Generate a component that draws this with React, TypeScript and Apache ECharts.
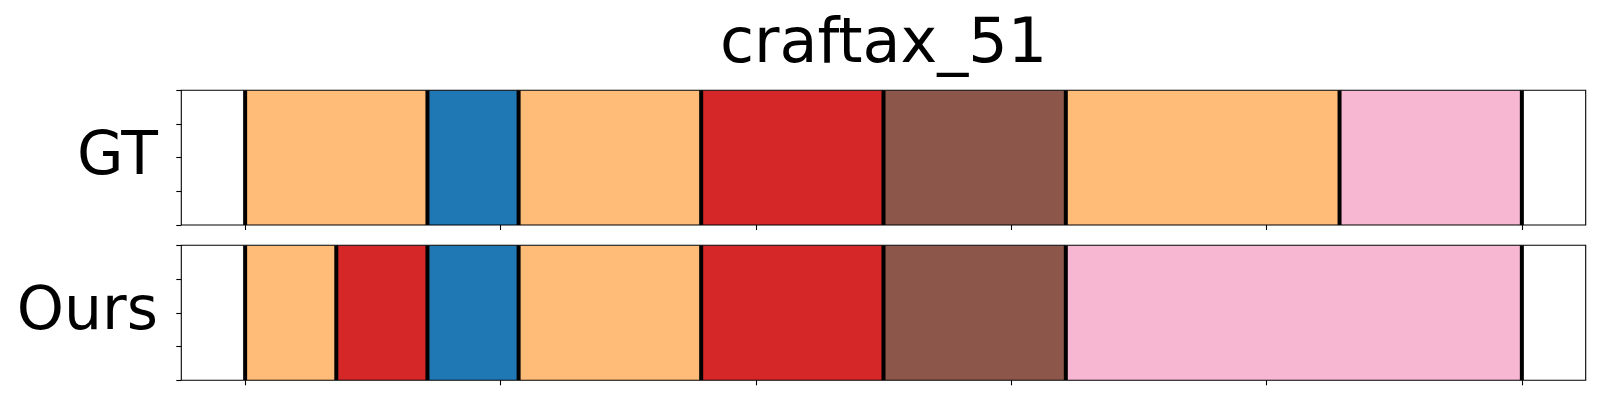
import React, { useEffect, useRef } from "react";
import * as echarts from "echarts";

const title = "craftax_51";
const rowNames = ["GT", "Ours"];
const xTicks = [0, 100, 200, 300, 400, 500];
const gtBounds = [0, 71.4, 107.1, 178.6, 250, 321.4, 428.6, 500];
const gtColors = ["#ffbb78", "#1f77b4", "#ffbb78", "#d62728", "#8c564b", "#ffbb78", "#f7b6d2"];
const oursBounds = [0, 35.7, 71.4, 107.1, 178.6, 250, 321.4, 500];
const oursColors = ["#ffbb78", "#d62728", "#1f77b4", "#ffbb78", "#d62728", "#8c564b", "#f7b6d2"];

const FONT = "DejaVu Sans";

function segSeries(bounds: number[], colors: string[], idx: number) {
  const data = colors.map((c, i) => ({ value: [bounds[i], bounds[i + 1]], itemStyle: { color: c } }));
  return {
    type: "custom",
    xAxisIndex: idx,
    yAxisIndex: idx,
    clip: true,
    z: 2,
    renderItem: (params: any, api: any) => {
      const s = api.coord([api.value(0), 4]);
      const e = api.coord([api.value(1), 0]);
      return {
        type: "rect",
        shape: { x: s[0], y: s[1], width: e[0] - s[0], height: e[1] - s[1] },
        style: { fill: api.visual("color") },
      };
    },
    data,
  };
}

function lineSeries(bounds: number[], idx: number) {
  return {
    type: "custom",
    xAxisIndex: idx,
    yAxisIndex: idx,
    clip: true,
    z: 3,
    renderItem: (params: any, api: any) => {
      const a = api.coord([api.value(0), 0]);
      const b = api.coord([api.value(0), 4]);
      return {
        type: "line",
        shape: { x1: a[0], y1: a[1], x2: b[0], y2: b[1] },
        style: { stroke: "#000", lineWidth: 4 },
      };
    },
    data: bounds.map((v) => [v, 0]),
  };
}

function frameSeries(idx: number) {
  return {
    type: "custom",
    xAxisIndex: idx,
    yAxisIndex: idx,
    clip: false,
    z: 4,
    renderItem: (params: any) => {
      const cs = params.coordSys;
      return {
        type: "rect",
        shape: { x: cs.x, y: cs.y, width: cs.width, height: cs.height },
        style: { fill: "none", stroke: "#000", lineWidth: 1.1 },
      };
    },
    data: [[0, 0]],
  };
}

export default function App() {
  const ref = useRef<HTMLDivElement>(null);
  useEffect(() => {
    if (!ref.current) return;
    const chart = echarts.init(ref.current, undefined, { renderer: "svg" });
    const grids = [
      { left: 181.3, top: 90.3, width: 1404.4, height: 134.7 },
      { left: 181.3, top: 245.3, width: 1404.4, height: 135 },
    ];
    const xAxis = grids.map((_, i) => ({
      type: "value",
      gridIndex: i,
      min: -25,
      max: 525,
      axisLine: { show: false, onZero: false },
      axisTick: { show: true, inside: false, length: 5, customValues: xTicks, lineStyle: { color: "#000", width: 1.1 } },
      axisLabel: { show: false, customValues: xTicks },
      splitLine: { show: false },
    }));
    const yAxis = grids.map((_, i) => ({
      type: "value",
      gridIndex: i,
      position: "left",
      min: 0,
      max: 4,
      interval: 1,
      axisLine: { show: false, onZero: false },
      axisTick: { show: true, inside: false, length: 5, lineStyle: { color: "#000", width: 1.1 } },
      axisLabel: { show: false },
      splitLine: { show: false },
    }));
    chart.setOption({
      animation: false,
      backgroundColor: "#fff",
      grid: grids,
      xAxis,
      yAxis,
      graphic: [
        {
          type: "text",
          x: 883.5,
          y: 40,
          style: { text: title, font: `62px "${FONT}"`, fill: "#000", align: "center", verticalAlign: "middle" },
        },
        {
          type: "text",
          x: 158,
          y: 153,
          style: { text: rowNames[0], font: `60px "${FONT}"`, fill: "#000", align: "right", verticalAlign: "middle" },
        },
        {
          type: "text",
          x: 158,
          y: 308,
          style: { text: rowNames[1], font: `60px "${FONT}"`, fill: "#000", align: "right", verticalAlign: "middle" },
        },
      ],
      series: [
        segSeries(gtBounds, gtColors, 0),
        lineSeries(gtBounds, 0),
        frameSeries(0),
        segSeries(oursBounds, oursColors, 1),
        lineSeries(oursBounds, 1),
        frameSeries(1),
      ],
    });
    return () => chart.dispose();
  }, []);
  return <div ref={ref} style={{ position: "absolute", left: 0, top: 0, width: 1600, height: 400 }} />;
}
